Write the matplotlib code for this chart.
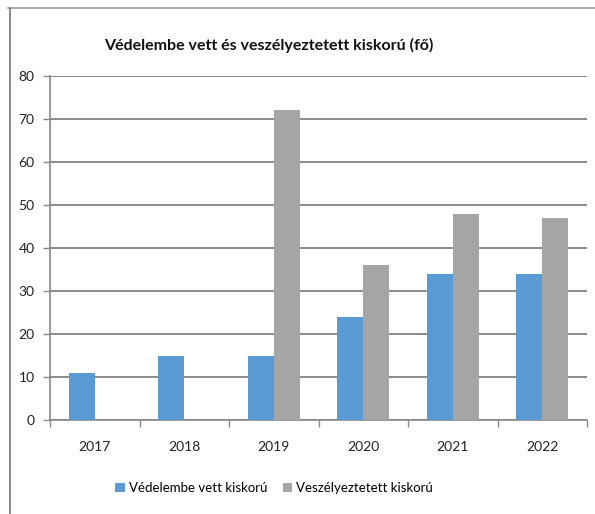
import matplotlib
matplotlib.use("Agg")
import matplotlib.pyplot as plt
from matplotlib.lines import Line2D
import numpy as np

years = ["2017", "2018", "2019", "2020", "2021", "2022"]
vedelembe = [11, 15, 15, 24, 34, 34]
veszelyeztetett = [0, 0, 72, 36, 48, 47]
series_names = ["Védelembe vett kiskorú", "Veszélyeztetett kiskorú"]
title = "Védelembe vett és veszélyeztetett kiskorú (fő)"
yticks = [0, 10, 20, 30, 40, 50, 60, 70, 80]

plt.rcParams['font.family'] = ['Lato', 'DejaVu Sans']

fig = plt.figure(figsize=(5.95, 5.14), dpi=100)
W, H = 595, 514
left, right, top, bottom = 50, 587, 76, 420
ax = fig.add_axes([left / W, 1 - bottom / H, (right - left) / W, (bottom - top) / H])

x = np.arange(len(years))
bw = 0.29
blue = "#5B9BD5"
gray = "#A5A5A5"
ax.bar(x - bw / 2, vedelembe, bw, color=blue, label=series_names[0], zorder=3)
ax.bar(x + bw / 2, veszelyeztetett, bw, color=gray, label=series_names[1], zorder=3)

ax.set_xlim(-0.5, len(years) - 0.5)
ax.set_ylim(0, 80)
ax.set_yticks(yticks)
ax.set_yticklabels([str(v) for v in yticks], fontsize=10, color="#222222")
ax.set_xticks(x)
ax.set_xticklabels(years, fontsize=10, color="#222222")
ax.tick_params(axis='x', length=0, pad=15)
ax.set_xticks(np.arange(-0.5, len(years), 1), minor=True)
ax.tick_params(axis='x', which='minor', length=5, color="#888888", width=1)
ax.tick_params(axis='y', length=5, color="#888888", width=1, pad=6)

ax.grid(axis='y', color="#8a8a8a", linewidth=1.4, zorder=0)
for s in ["top", "right"]:
    ax.spines[s].set_visible(False)
ax.spines["left"].set_color("#888888")
ax.spines["bottom"].set_color("#888888")
ax.spines["left"].set_linewidth(1.2)
ax.spines["bottom"].set_linewidth(1.2)

fig.text(268.5 / W, 1 - 45 / H, title, fontsize=11.5, fontweight='bold',
         ha='center', va='center', color="#111111")

fig.legend(loc='center', bbox_to_anchor=(274 / W, 1 - 488 / H), ncol=2, frameon=False,
           fontsize=9.5, handlelength=0.7, handleheight=0.7, handletextpad=0.3, columnspacing=1.2)

# outer chart frame (partially visible)
fig.add_artist(Line2D([8 / W, 1], [1 - 8 / H, 1 - 8 / H], color="#999999", linewidth=1.2))
fig.add_artist(Line2D([10 / W, 10 / W], [0, 1 - 8 / H], color="#777777", linewidth=1.2))

fig.savefig("out.png", dpi=100)
